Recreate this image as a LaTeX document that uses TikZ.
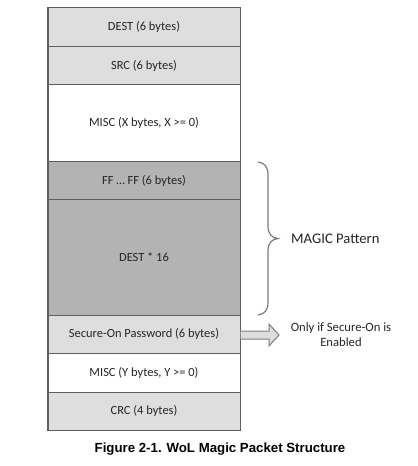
\documentclass[tikz,border=0pt]{standalone}
\usepackage{fontspec}
\setmainfont{Carlito}
\newfontfamily\capfont{Liberation Sans}
\begin{document}
\begin{tikzpicture}[x=1bp,y=-1bp,
  rowbox/.style={draw=linegray,line width=1bp,minimum width=192bp,inner sep=0pt,
    font=\fontsize{12.5}{15}\selectfont,text=black!85},
  lightrow/.style={rowbox,fill=lightfill},
  darkrow/.style={rowbox,fill=darkfill},
  plainrow/.style={rowbox,fill=white},
  sidetext/.style={font=\fontsize{12.7}{15.5}\selectfont,align=center,text=black!85},
  bracepath/.style={draw=bracegray,line width=1.2bp},
  blockarrow/.style={draw=arrowgray,fill=lightfill,line width=1bp,line join=miter}]
\definecolor{linegray}{HTML}{5E5E5E}
\definecolor{lightfill}{HTML}{DEDEDE}
\definecolor{darkfill}{HTML}{B3B3B3}
\definecolor{bracegray}{HTML}{7A7A7A}
\definecolor{arrowgray}{HTML}{7F7F7F}
\useasboundingbox (0,0) rectangle (417,466);
\fill[white] (0,0) rectangle (417,466);
\node[lightrow,minimum height=38.5bp] (dest) at (144,27.25) {DEST (6 bytes)};
\node[lightrow,minimum height=38.5bp] (src) at (144,65.75) {SRC (6 bytes)};
\node[plainrow,minimum height=76.5bp] (miscx) at (144,123.25) {MISC (X bytes, X >= 0)};
\node[darkrow,minimum height=38.5bp] (ff) at (144,180.75) {FF … FF (6 bytes)};
\node[darkrow,minimum height=115bp] (dest16) at (144,257.5) {DEST * 16};
\node[lightrow,minimum height=38.5bp] (pwd) at (144,334.25) {Secure-On Password (6 bytes)};
\node[plainrow,minimum height=38.5bp] (miscy) at (144,372.75) {MISC (Y bytes, Y >= 0)};
\node[lightrow,minimum height=38bp] (crc) at (144,411) {CRC (4 bytes)};
% brace
\coordinate (btop) at (258,162);
\coordinate (bbot) at (258,315);
\coordinate (btip) at (278,238.5);
\draw[bracepath] (btop) .. controls (265,163) and (268,167) .. (268,175)
  -- (268,226) .. controls (268,234) and (272,238) .. (btip)
  .. controls (272,239) and (268,243) .. (268,251)
  -- (268,302) .. controls (268,310) and (265,314) .. (bbot);
\node[anchor=west,font=\fontsize{14.7}{17}\selectfont,text=black!85,inner sep=0pt] (magic) at (291,238.5) {MAGIC Pattern};
% block arrow
\coordinate (atip) at (279,335);
\draw[blockarrow] (pwd.east |- 0,331) -- (269,331) -- (269,324) -- (atip) -- (269,346) -- (269,339) -- (pwd.east |- 0,339);
\node[sidetext,inner sep=0pt] (only) at (341,334.5) {Only if Secure-On is\\Enabled};
\node[font=\capfont\bfseries\fontsize{13.3}{16}\selectfont,inner sep=0pt] (cap) at (220,449) {Figure 2-1. WoL Magic Packet Structure};
\end{tikzpicture}
\end{document}
